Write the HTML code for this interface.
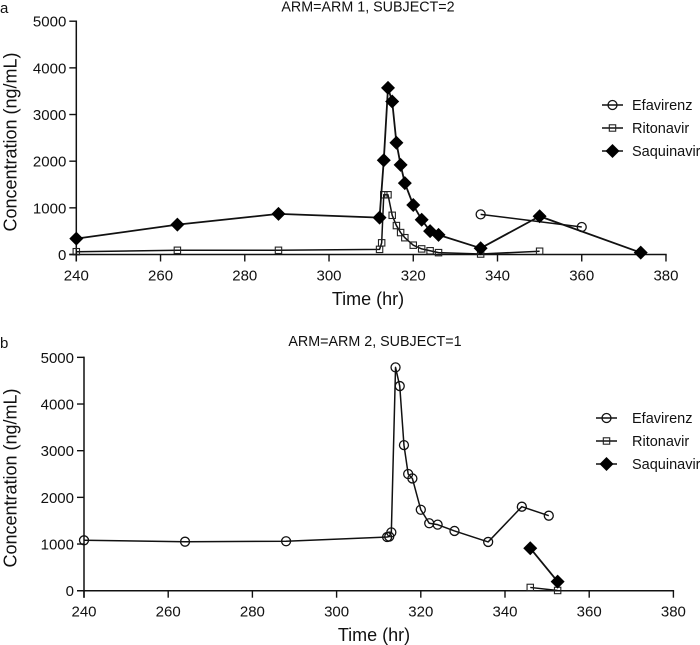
<!DOCTYPE html>
<html lang="en">
<head>
<meta charset="utf-8">
<title>Concentration vs time</title>
<style>
html,body{margin:0;padding:0;background:#fff;width:700px;height:645px;overflow:hidden}
svg{display:block}
text{font-family:"Liberation Sans",sans-serif;fill:#111}
</style>
</head>
<body>
<svg id="chart" xmlns="http://www.w3.org/2000/svg" width="700" height="645" viewBox="0 0 700 645"></svg>
<script>
const xTicks = [240, 260, 280, 300, 320, 340, 360, 380];
const yTicks = [0, 1000, 2000, 3000, 4000, 5000];

const aEfavirenzTime = [336, 360];
const aEfavirenzConc = [860, 590];
const aRitonavirTime = [240, 264, 288, 312, 312.5, 313, 314, 315, 316, 317, 318, 320, 322, 324, 326, 336, 350];
const aRitonavirConc = [60, 90, 90, 110, 250, 1280, 1280, 840, 620, 470, 360, 200, 120, 80, 40, 10, 70];
const aSaquinavirTime = [240, 264, 288, 312, 313, 314, 315, 316, 317, 318, 320, 322, 324, 326, 336, 350, 374];
const aSaquinavirConc = [340, 640, 870, 790, 2020, 3570, 3280, 2395, 1920, 1530, 1060, 745, 500, 420, 135, 820, 40];

const bEfavirenzTime = [240, 264, 288, 312, 312.5, 313, 314, 315, 316, 317, 318, 320, 322, 324, 328, 336, 344, 350.4];
const bEfavirenzConc = [1080, 1050, 1060, 1150, 1160, 1250, 4785, 4385, 3120, 2500, 2405, 1735, 1445, 1415, 1280, 1045, 1800, 1607];
const bRitonavirTime = [346, 352.5];
const bRitonavirConc = [70, 5];
const bSaquinavirTime = [346, 352.5];
const bSaquinavirConc = [910, 195];

const svg = document.getElementById('chart');
const NS = 'http://www.w3.org/2000/svg';

function make(tag, attrs, parent) {
  const el = document.createElementNS(NS, tag);
  for (const k in attrs) el.setAttribute(k, attrs[k]);
  parent.appendChild(el);
  return el;
}

function drawMarker(kind, cx, cy, group) {
  let m;
  if (kind === 'circle') {
    m = make('circle', {cx: cx, cy: cy, r: 4.5, fill: 'none', stroke: '#111', 'stroke-width': 1.3}, group);
  } else if (kind === 'square') {
    m = make('rect', {x: cx - 3.2, y: cy - 3.2, width: 6.4, height: 6.4, fill: 'none', stroke: '#222', 'stroke-width': 1.1}, group);
  } else {
    const r = 7;
    const corners = [[cx, cy - r], [cx + r, cy], [cx, cy + r], [cx - r, cy]];
    m = make('polygon', {points: corners.map(function (p) { return p[0] + ',' + p[1]; }).join(' '), fill: '#000'}, group);
  }
  return m;
}

function drawSeries(panel, name, kind, times, concs, sx, sy, lw) {
  const g = make('g', {}, panel);
  
  
  const pts = times.map(function (t, i) { return sx(t) + ',' + sy(concs[i]); }).join(' ');
  const line = make('polyline', {points: pts, fill: 'none', stroke: '#111', 'stroke-width': lw, 'stroke-linejoin': 'round'}, g);
  
  
  times.forEach(function (t, i) {
    const m = drawMarker(kind, sx(t), sy(concs[i]), g);
    
    
  });
}

function drawPanel(cfg) {
  const panel = make('g', {}, svg);
  
  

  const sx = function (t) { return cfg.x0 + (t - 240) * cfg.xs; };
  const sy = function (c) { return cfg.y0 - c * cfg.ys; };

  const letter = make('text', {x: 0, y: cfg.letterY, 'font-size': 15}, panel);
  letter.textContent = cfg.id;
  
  

  const title = make('text', {x: cfg.titleX, y: cfg.titleY, 'font-size': 14.3, 'text-anchor': 'middle'}, panel);
  title.textContent = cfg.title;
  
  

  const xAxis = make('line', {x1: sx(240) - 7, x2: sx(380) + 0.7, y1: cfg.y0, y2: cfg.y0, stroke: '#111', 'stroke-width': 1.5}, panel);
  
  
  const yAxis = make('line', {x1: sx(240), x2: sx(240), y1: sy(5000) - 0.7, y2: cfg.y0 + 7, stroke: '#111', 'stroke-width': 1.5}, panel);
  
  

  xTicks.forEach(function (t) {
    const tick = make('line', {x1: sx(t), x2: sx(t), y1: cfg.y0, y2: cfg.y0 + 7, stroke: '#111', 'stroke-width': 1.4}, panel);
    
    
    const label = make('text', {x: sx(t), y: cfg.y0 + 26, 'font-size': 15, 'text-anchor': 'middle'}, panel);
    label.textContent = t;
    
    
  });
  yTicks.forEach(function (c) {
    const tick = make('line', {x1: sx(240) - 7, x2: sx(240), y1: sy(c), y2: sy(c), stroke: '#111', 'stroke-width': 1.4}, panel);
    
    
    const label = make('text', {x: sx(240) - 10, y: sy(c) + 5.5, 'font-size': 15, 'text-anchor': 'end'}, panel);
    label.textContent = c;
    
    
  });

  const xt = make('text', {x: cfg.xTitleX, y: cfg.y0 + 50.5, 'font-size': 18, 'text-anchor': 'middle'}, panel);
  xt.textContent = 'Time (hr)';
  
  

  const yt = make('text', {x: 0, y: 0, 'font-size': 18, 'text-anchor': 'middle', transform: 'translate(16.5,' + cfg.yTitleY + ') rotate(-90)'}, panel);
  yt.textContent = 'Concentration (ng/mL)';
  
  

  cfg.series.forEach(function (s) {
    drawSeries(panel, s.name, s.kind, s.times, s.concs, sx, sy, s.lw);
  });

  const legend = make('g', {}, panel);
  
  
  cfg.series.forEach(function (s, i) {
    const y = cfg.legendY + i * cfg.legendGap;
    const entry = make('g', {}, legend);
    
    
    make('line', {x1: cfg.legendX, x2: cfg.legendX + 21, y1: y, y2: y, stroke: '#111', 'stroke-width': 1.4}, entry);
    drawMarker(s.kind, cfg.legendX + 10.5, y, entry);
    const text = make('text', {x: cfg.legendTextX, y: y + 5, 'font-size': 14.5}, entry);
    text.textContent = s.label;
  });
}

drawPanel({
  id: 'a', title: 'ARM=ARM 1, SUBJECT=2', x0: 76.3, y0: 254.5, xs: 4.212, ys: 0.04666,
  letterY: 13, titleX: 368, titleY: 11.5, xTitleX: 368, yTitleY: 142,
  legendX: 602, legendTextX: 632, legendY: 105, legendGap: 23,
  series: [
    {name: 'efavirenz', label: 'Efavirenz', kind: 'circle', times: aEfavirenzTime, concs: aEfavirenzConc, lw: 1.5},
    {name: 'ritonavir', label: 'Ritonavir', kind: 'square', times: aRitonavirTime, concs: aRitonavirConc, lw: 1.5},
    {name: 'saquinavir', label: 'Saquinavir', kind: 'diamond', times: aSaquinavirTime, concs: aSaquinavirConc, lw: 1.8}
  ]
});

drawPanel({
  id: 'b', title: 'ARM=ARM 2, SUBJECT=1', x0: 84, y0: 590.7, xs: 4.21, ys: 0.04667,
  letterY: 348, titleX: 375, titleY: 346, xTitleX: 374, yTitleY: 478,
  legendX: 596, legendTextX: 632, legendY: 418, legendGap: 23,
  series: [
    {name: 'efavirenz', label: 'Efavirenz', kind: 'circle', times: bEfavirenzTime, concs: bEfavirenzConc, lw: 1.5},
    {name: 'ritonavir', label: 'Ritonavir', kind: 'square', times: bRitonavirTime, concs: bRitonavirConc, lw: 1.5},
    {name: 'saquinavir', label: 'Saquinavir', kind: 'diamond', times: bSaquinavirTime, concs: bSaquinavirConc, lw: 1.8}
  ]
});
</script>
</body>
</html>
